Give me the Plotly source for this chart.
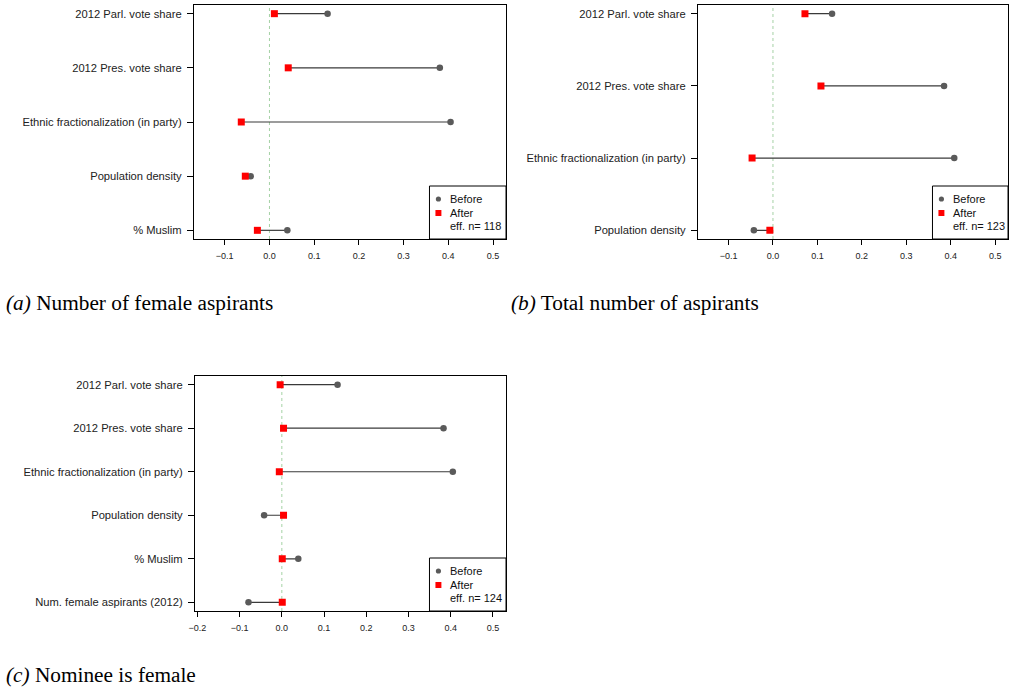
import plotly.graph_objects as go

W, H = 1012, 687

# ---------------- data ----------------
labels_a = ["2012 Parl. vote share", "2012 Pres. vote share",
            "Ethnic fractionalization (in party)", "Population density", "% Muslim"]
before_a = [0.130, 0.381, 0.405, -0.042, 0.040]
after_a = [0.011, 0.042, -0.063, -0.054, -0.027]
n_a = 118

labels_b = ["2012 Parl. vote share", "2012 Pres. vote share",
            "Ethnic fractionalization (in party)", "Population density"]
before_b = [0.133, 0.385, 0.408, -0.043]
after_b = [0.072, 0.108, -0.047, -0.007]
n_b = 123

labels_c = ["2012 Parl. vote share", "2012 Pres. vote share",
            "Ethnic fractionalization (in party)", "Population density",
            "% Muslim", "Num. female aspirants (2012)"]
before_c = [0.132, 0.383, 0.405, -0.042, 0.039, -0.079]
after_c = [-0.004, 0.004, -0.006, 0.004, 0.001, 0.001]
n_c = 124

xticks_ab = [-0.1, 0.0, 0.1, 0.2, 0.3, 0.4, 0.5]
xticks_c = [-0.2, -0.1, 0.0, 0.1, 0.2, 0.3, 0.4, 0.5]

captions = [("(a)", "Number of female aspirants"),
            ("(b)", "Total number of aspirants"),
            ("(c)", "Nominee is female")]

# ---------------- layout geometry (pixels) ----------------
panels = [
    dict(labels=labels_a, before=before_a, after=after_a, n=n_a, xticks=xticks_ab,
         box=(189, 503, 5, 239), xr=(-0.169, 0.529), leg=(426, 186), cap=(-2, 303)),
    dict(labels=labels_b, before=before_b, after=after_b, n=n_b, xticks=xticks_ab,
         box=(696, 1008, 5, 239), xr=(-0.169, 0.529), leg=(932, 186), cap=(506, 303)),
    dict(labels=labels_c, before=before_c, after=after_c, n=n_c, xticks=xticks_c,
         box=(190, 503, 376, 611), xr=(-0.206, 0.531), leg=(426, 558), cap=(-2, 675)),
]

def px(x):
    return x / W

def py(y):
    return 1 - y / H

AX_FONT = "Liberation Sans, Arial, Helvetica, sans-serif"
CAP_FONT = "Liberation Serif, Times New Roman, Times, serif"

fig = go.Figure()
shapes = []
annotations = []

for i, p in enumerate(panels):
    k = "" if i == 0 else str(i + 1)
    xa, ya = "x" + k, "y" + k
    n = len(p["labels"])
    ypos = list(range(n, 0, -1))
    # segments
    lx, ly = [], []
    for b, a, yy in zip(p["before"], p["after"], ypos):
        lx += [b, a, None]
        ly += [yy, yy, None]
    fig.add_trace(go.Scatter(x=lx, y=ly, mode="lines", xaxis=xa, yaxis=ya,
                             line=dict(color="#3a3a3a", width=1.2),
                             showlegend=False, hoverinfo="skip"))
    fig.add_trace(go.Scatter(x=p["before"], y=ypos, mode="markers", xaxis=xa, yaxis=ya,
                             name="Before",
                             marker=dict(symbol="circle", size=6.5, color="#5a5a5a"),
                             showlegend=False))
    fig.add_trace(go.Scatter(x=p["after"], y=ypos, mode="markers", xaxis=xa, yaxis=ya,
                             name="After",
                             marker=dict(symbol="square", size=7, color="#ff0000"),
                             showlegend=False))
    x0, x1, y0, y1 = p["box"]
    exp = (n - 1) * 0.04
    fig.update_layout(**{
        "xaxis" + k: dict(domain=[px(x0), px(x1)], anchor=ya, range=list(p["xr"]),
                          tickvals=p["xticks"],
                          ticktext=[("\u2212" + f"{abs(v):.1f}") if v < 0 else f"{v:.1f}" for v in p["xticks"]],
                          ticks="outside", ticklen=5, tickcolor="black", tickwidth=1,
                          showline=True, mirror=True, linecolor="black", linewidth=1,
                          showgrid=False, zeroline=False,
                          tickfont=dict(family=AX_FONT, size=9, color="#222"),
                          ticklabelstandoff=3, fixedrange=True),
        "yaxis" + k: dict(domain=[py(y1), py(y0)], anchor=xa,
                          range=[1 - exp, n + exp], tickvals=ypos, ticktext=p["labels"],
                          ticks="outside", ticklen=6, tickcolor="black", tickwidth=1,
                          showline=True, mirror=True, linecolor="black", linewidth=1,
                          showgrid=False, zeroline=False,
                          tickfont=dict(family=AX_FONT, size=11.2, color="#222"),
                          ticklabelstandoff=3, fixedrange=True),
    })
    # zero reference line
    shapes.append(dict(type="line", xref=xa, yref=ya + " domain", x0=0, x1=0, y0=0, y1=1,
                       line=dict(color="rgb(165,210,165)", width=1, dash="3px,3px"),
                       layer="below"))
    # manual legend box
    lx0, ly0 = p["leg"]
    shapes.append(dict(type="rect", xref="paper", yref="paper",
                       x0=px(lx0), x1=px(x1), y0=py(y1), y1=py(ly0),
                       line=dict(color="black", width=1), fillcolor="white", layer="above"))
    mx = lx0 + 9
    r1y, r2y, r3y = ly0 + 13, ly0 + 27, ly0 + 40
    shapes.append(dict(type="circle", xref="paper", yref="paper",
                       x0=px(mx - 2.6), x1=px(mx + 2.6), y0=py(r1y + 2.6), y1=py(r1y - 2.6),
                       fillcolor="#5a5a5a", line=dict(width=0), layer="above"))
    shapes.append(dict(type="rect", xref="paper", yref="paper",
                       x0=px(mx - 3), x1=px(mx + 3), y0=py(r2y + 3), y1=py(r2y - 3),
                       fillcolor="#ff0000", line=dict(width=0), layer="above"))
    for txt, yy in [("Before", r1y), ("After", r2y), (f"eff. n= {p['n']}", r3y)]:
        annotations.append(dict(text=txt, xref="paper", yref="paper", x=px(mx + 10), y=py(yy),
                                xanchor="left", yanchor="middle", showarrow=False,
                                font=dict(family=AX_FONT, size=11, color="#111")))
    # caption
    cx, cy = p["cap"]
    tag, cap = captions[i]
    annotations.append(dict(text=f"<i>{tag}</i> {cap}", xref="paper", yref="paper",
                            x=px(cx), y=py(cy), xanchor="left", yanchor="middle",
                            showarrow=False,
                            font=dict(family=CAP_FONT, size=21.3, color="black")))

fig.update_layout(width=W, height=H, margin=dict(l=0, r=0, t=0, b=0),
                  paper_bgcolor="white", plot_bgcolor="white",
                  shapes=shapes, annotations=annotations, showlegend=False)

fig.write_html("out.html",
               config={"displayModeBar": False},
               post_script="document.body.style.margin='0px';"
                           "document.body.style.overflow='hidden';"
                           "document.documentElement.style.overflow='hidden';")
